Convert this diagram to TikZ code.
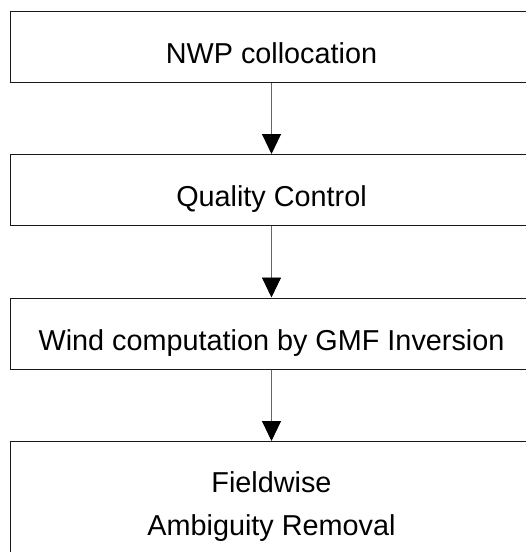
\documentclass[tikz,border=0pt]{standalone}
\usepackage{fontspec}
\setmainfont{Liberation Sans}
\usetikzlibrary{arrows.meta,positioning}

\begin{document}
\begin{tikzpicture}[
    x=1pt, y=1pt,
    node distance=71.5pt,
    stepbox/.style={rectangle, draw=black!90, line width=1pt, fill=white,
                    minimum width=523pt, minimum height=71pt, align=center,
                    font=\fontsize{28.8}{43.5}\selectfont, inner sep=0pt,
                    text height=33pt, text depth=0pt},
    arrow/.style={-{Triangle[length=20pt,width=19pt,color=black]}, draw=black!60, line width=0.9pt}
]
\useasboundingbox (0,0) rectangle (526,-552);

%% ---- boxes ----
\node[stepbox] (nwp) at (271.5,-46.5) {NWP collocation};
\node[stepbox, below=of nwp] (qc)     {Quality Control};
\node[stepbox, below=of qc]  (gmf)    {Wind computation by GMF Inversion};
\node[stepbox, below=of gmf, minimum height=130pt, text height={}, text depth={}] (amb)
    {Fieldwise\\Ambiguity Removal};

%% ---- arrows ----
\draw[arrow] (nwp)--(qc);
\draw[arrow] (qc)--(gmf);
\draw[arrow] (gmf)--(amb);

\end{tikzpicture}
\end{document}
